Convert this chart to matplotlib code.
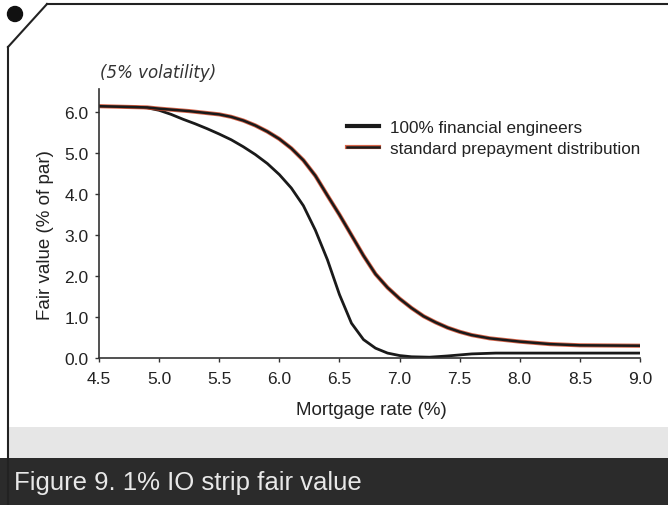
import matplotlib
matplotlib.use('Agg')
import matplotlib.pyplot as plt
from matplotlib.lines import Line2D
from matplotlib.patches import Rectangle, Circle
from matplotlib.transforms import IdentityTransform

# data
rate_fe = [4.5, 4.8, 4.9, 5.0, 5.1, 5.2, 5.3, 5.4, 5.5, 5.6, 5.7, 5.8, 5.9,
           6.0, 6.1, 6.2, 6.3, 6.4, 6.5, 6.6, 6.7, 6.8, 6.9, 7.0, 7.1, 7.25,
           7.4, 7.6, 7.8, 9.0]
value_fe = [6.15, 6.13, 6.11, 6.05, 5.95, 5.83, 5.72, 5.6, 5.47, 5.33, 5.16,
            4.97, 4.75, 4.48, 4.15, 3.72, 3.12, 2.4, 1.55, 0.85, 0.45, 0.24,
            0.12, 0.06, 0.03, 0.02, 0.05, 0.1, 0.12, 0.12]

rate_std = [4.5, 4.9, 5.0, 5.25, 5.5, 5.6, 5.7, 5.8, 5.9, 6.0, 6.1, 6.2, 6.3,
            6.4, 6.5, 6.6, 6.7, 6.8, 6.9, 7.0, 7.1, 7.2, 7.3, 7.4, 7.5, 7.6,
            7.75, 8.0, 8.25, 8.5, 9.0]
value_std = [6.15, 6.12, 6.09, 6.03, 5.95, 5.89, 5.8, 5.68, 5.53, 5.35, 5.12,
             4.83, 4.45, 3.97, 3.5, 3.0, 2.5, 2.05, 1.72, 1.45, 1.22, 1.02,
             0.87, 0.74, 0.64, 0.56, 0.48, 0.4, 0.34, 0.31, 0.3]

xticks = [4.5, 5.0, 5.5, 6.0, 6.5, 7.0, 7.5, 8.0, 8.5, 9.0]
yticks = [0.0, 1.0, 2.0, 3.0, 4.0, 5.0, 6.0]

W, H = 668, 506
plt.rcParams['font.family'] = ['Liberation Sans', 'DejaVu Sans']

fig = plt.figure(figsize=(W / 100, H / 100), dpi=100)


def fx(px):
    return px / W


def fy(py):
    return 1 - py / H


ax = fig.add_axes([fx(99), fy(359), fx(640) - fx(99), fy(90) - fy(359)])

ax.plot(rate_fe, value_fe, color='#1a1a1a', lw=2.0)
red, = ax.plot(rate_std, value_std, color='#d24a2a', lw=3.0, alpha=0.85)
blk, = ax.plot(rate_std, value_std, color='#1a1a1a', lw=1.8)

ax.set_xlim(4.5, 9.0)
ax.set_ylim(0, 6.57)
ax.set_xticks(xticks)
ax.set_xticklabels([f'{v:.1f}' for v in xticks])
ax.set_yticks(yticks)
ax.set_yticklabels([f'{v:.1f}' for v in yticks])
for s in ['top', 'right']:
    ax.spines[s].set_visible(False)
for s in ['left', 'bottom']:
    ax.spines[s].set_color('#333333')
    ax.spines[s].set_linewidth(1.2)
ax.tick_params(direction='out', length=3, width=1, colors='#333333',
               labelsize=12.5, labelcolor='#222222', pad=4.5)
ax.tick_params(axis='x', pad=6.5)
ax.set_xlabel('Mortgage rate (%)', fontsize=13.5, color='#222222')
ax.set_ylabel('Fair value (% of par)', fontsize=13.5, color='#222222')
# label centres, in figure pixels
ax.xaxis.set_label_coords(fx(371), fy(411), transform=fig.transFigure)
ax.yaxis.set_label_coords(fx(46), fy(235), transform=fig.transFigure)
ax.xaxis.label.set_va('center')
ax.yaxis.label.set_va('center')

fe_handle = Line2D([], [], color='#1a1a1a', lw=3.0)
ax.legend([fe_handle, (red, blk)],
          ['100% financial engineers', 'standard prepayment distribution'],
          loc='upper left', bbox_to_anchor=(fx(347), fy(121)),
          bbox_transform=fig.transFigure, frameon=False, fontsize=12.3,
          handlelength=1.9, handletextpad=0.6, labelspacing=0.35,
          borderpad=0, borderaxespad=0, labelcolor='#222222')

fig.text(fx(100), fy(73), '(5% volatility)', fontsize=12, style='italic',
         family=['DejaVu Sans'], color='#333333', va='center', ha='left')

# page decoration: corner border, dot, grey strip and caption bar
fig.add_artist(Line2D([fx(47), fx(668)], [fy(5), fy(5)], color='#222222', lw=1.5))
fig.add_artist(Line2D([fx(8), fx(47)], [fy(48), fy(5)], color='#222222', lw=1.5))
fig.add_artist(Line2D([fx(8), fx(8)], [fy(48), fy(506)], color='#222222', lw=1.5))
fig.add_artist(Circle((15, H - 15), 7.5, transform=IdentityTransform(),
                      color='#111111'))
fig.add_artist(Rectangle((fx(8), fy(459)), 1, fy(428) - fy(459),
                         transform=fig.transFigure, color='#e6e6e6', lw=0))
fig.add_artist(Rectangle((0, 0), 1, fy(459), transform=fig.transFigure,
                         color='#2b2b2b', lw=0))
fig.text(fx(14), fy(483), 'Figure 9. 1% IO strip fair value', fontsize=18.5,
         color='#e8e8e8', va='center', ha='left')

fig.savefig('out.png', dpi=100)
